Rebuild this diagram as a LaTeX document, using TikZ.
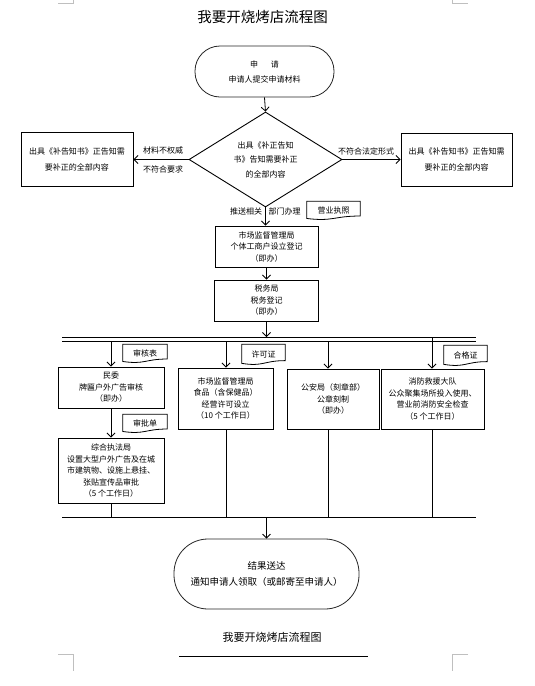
\documentclass[tikz,border=0pt]{standalone}
\usepackage{fontspec}
\setmainfont{Noto Sans CJK SC}
\usetikzlibrary{shapes.geometric,arrows.meta,calc}
\tikzset{
  boxf/.style={font=\fontsize{8}{11.5}\selectfont},
  procbox/.style={draw, line width=0.9pt, align=center, inner sep=0pt, boxf},
  termbox/.style={draw, line width=0.8pt, align=center, inner sep=0pt, draw=black!85},
  arr/.style={-{Straight Barb[length=4pt,width=8pt]}, line width=0.8pt},
  ln/.style={line width=0.9pt},
  lbl/.style={font=\fontsize{8}{10}\selectfont, inner sep=0pt},
  docnode/.style={inner sep=0pt, font=\fontsize{8}{10}\selectfont, yshift=-0.5pt},
  crop/.style={draw=black!25, line width=0.8pt}
}
\newcommand{\docoutline}[1]{%
  \draw[line width=0.8pt] (#1.north west) -- (#1.north east)
    -- ($(#1.north east)!0.8!(#1.south east)$)
    .. controls ($(#1.north)!0.8!(#1.south)$) and ($(#1.north)!1.107!(#1.south)$) ..
    ($(#1.north west)!0.934!(#1.south west)$) -- cycle;}
\begin{document}
\begin{tikzpicture}[x=1pt,y=-1pt]
\useasboundingbox (0,0) rectangle (535,686);
\fill[white] (0,0) rectangle (535,686);

% crop marks
\draw[crop] (58,3) -- (73,3) -- (73,0);
\draw[crop] (452,0) -- (452,3) -- (468,3);
\draw[crop] (58,654) -- (73,654) -- (73,671);
\draw[crop] (468,654) -- (452,654) -- (452,671);

% title
\node[font=\fontsize{14.5}{16}\selectfont, inner sep=0pt] (title) at (262.5,17) {我要开烧烤店流程图};

% start
\node[termbox, rounded corners=25pt, minimum width=139pt, minimum height=51pt,
      font=\fontsize{8}{15}\selectfont] (start) at (264.5,71.5)
      {申\hspace{1.6em}请\\申请人提交申请材料};

% decision
\node[draw, line width=0.9pt, shape=diamond, aspect=1.6, minimum width=153pt, minimum height=95pt,
      inner sep=0pt, align=center, font=\fontsize{8}{14.5}\selectfont] (dia) at (265.5,159.5)
      {出具《补正告知\\书》告知需要补正\\的全部内容};

\node[procbox, minimum width=112pt, minimum height=54pt, font=\fontsize{8}{16}\selectfont] (lb) at (77,159.5)
      {出具《补告知书》正告知需\\要补正的全部内容};
\node[procbox, minimum width=111pt, minimum height=53pt, font=\fontsize{8}{16}\selectfont] (rb) at (456.5,159.5)
      {出具《补告知书》正告知需\\要补正的全部内容};

\draw[arr] (start.south) -- (dia.north);
\draw[arr] (dia.west) -- (lb.east);
\draw[arr] (dia.east) -- (rb.west);
\node[lbl] (l1) at (163,150) {材料不权威};
\node[lbl] (l2) at (163,169) {不符合要求};
\node[lbl] (l3) at (366,151) {不符合法定形式};

% first registrations
\node[procbox, minimum width=103pt, minimum height=41pt] (m1) at (266.5,246.5)
      {市场监督管理局\\个体工商户设立登记\\（即办）};
\draw[arr] (dia.south) -- (dia.south |- m1.north);
\node[lbl] (l4) at (246,211) {推送相关};
\node[lbl] (l5) at (284.5,211) {部门办理};
\node[docnode, minimum width=53pt, minimum height=18pt] (d0) at (333.5,210) {营业执照};
\docoutline{d0}

\node[procbox, minimum width=104pt, minimum height=41pt] (t1) at (266.5,300.5)
      {税务局\\税务登记\\（即办）};
\draw[arr] (m1.south) -- (t1.north);

% bus
\coordinate (busTL) at (62,337);
\coordinate (busTR) at (476,337);
\coordinate (busBL) at (62,341);
\coordinate (busBR) at (476,341);
\draw[ln] (busTL) -- (busTR);
\draw[ln] (busBL) -- (busBR);
\draw[arr] (t1.south) -- (t1.south |- busTL);

\coordinate (b1) at (111,341);
\coordinate (b2) at (226,341);
\coordinate (b3) at (328,341);
\coordinate (b4) at (432,337);

% branch boxes
\node[procbox, minimum width=106pt, minimum height=41pt] (mw) at (111,387.5)
      {民委\\牌匾户外广告审核\\（即办）};
\node[procbox, minimum width=106pt, minimum height=65pt] (zh) at (111,470.5)
      {综合执法局\\设置大型户外广告及在城\\市建筑物、设施上悬挂、\\张贴宣传品审批\\（5 个工作日）};
\node[procbox, minimum width=95pt, minimum height=61pt] (m2) at (225.5,398.5)
      {市场监督管理局\\食品（含保健品）\\经营许可设立\\（10 个工作日）};
\node[procbox, minimum width=92pt, minimum height=60pt] (ga) at (333,399)
      {公安局（刻章部）\\公章刻制\\（即办）};
\node[procbox, minimum width=103pt, minimum height=60pt] (xf) at (432.5,399)
      {消防救援大队\\公众聚集场所投入使用、\\营业前消防安全检查\\（5 个工作日）};

\draw[arr] (b1) -- (b1 |- mw.north);
\draw[arr] (mw.south) -- (zh.north);
\draw[arr] (b2) -- (b2 |- m2.north);
\draw[arr] (b3) -- (b3 |- ga.north);
\draw[arr] (b4) -- (b4 |- xf.north);

% documents
\node[docnode, minimum width=44pt, minimum height=18pt] (d1) at (145,353) {审核表};
\docoutline{d1}
\node[docnode, minimum width=44pt, minimum height=18pt] (d2) at (145,423) {审批单};
\docoutline{d2}
\node[docnode, minimum width=43pt, minimum height=20pt] (d3) at (263.5,354) {许可证};
\docoutline{d3}
\node[docnode, minimum width=43pt, minimum height=20pt] (d4) at (465.5,355) {合格证};
\docoutline{d4}

% collecting line
\coordinate (cL) at (62,517);
\coordinate (cR) at (476,517);
\draw[ln] (cL) -- (cR);
\draw[ln] (zh.south) -- (zh.south |- cL);
\draw[ln] (m2.south -| b2) -- (b2 |- cL);
\draw[ln] (ga.south -| b3) -- (b3 |- cL);
\draw[ln] (xf.south -| b4) -- (b4 |- cL);

% end
\node[termbox, rounded corners=34pt, minimum width=185pt, minimum height=70pt,
      font=\fontsize{9.5}{16}\selectfont] (fin) at (266.5,574)
      {结果送达\\通知申请人领取（或邮寄至申请人）};
\coordinate (cM) at (266.5,517);
\draw[arr] (cM) -- (fin.north);

% footer
\node[font=\fontsize{11}{13}\selectfont, inner sep=0pt] (foot) at (272,637) {我要开烧烤店流程图};
\coordinate (fl1) at (179,656);
\coordinate (fl2) at (368,656);
\draw[ln] (fl1) -- (fl2);
\end{tikzpicture}
\end{document}
